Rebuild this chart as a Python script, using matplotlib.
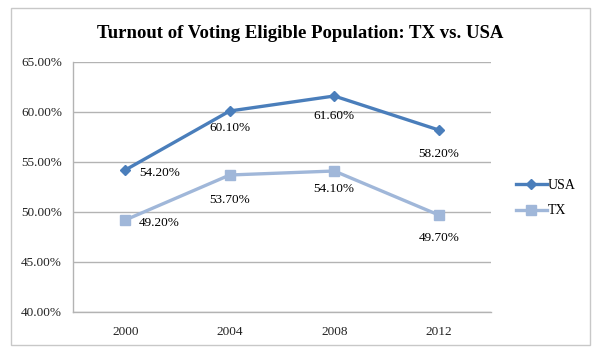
import matplotlib.pyplot as plt
from matplotlib.patches import Rectangle
from matplotlib.ticker import FuncFormatter

# ---- data ----
years = ["2000", "2004", "2008", "2012"]
usa = [54.2, 60.1, 61.6, 58.2]
tx = [49.2, 53.7, 54.1, 49.7]

usa_color = "#4a7ebb"
tx_color = "#a0b7d9"
grid_color = "#b3b3b3"

plt.rcParams['font.family'] = ['Liberation Serif', 'DejaVu Serif']

fig = plt.figure(figsize=(6, 3.57), dpi=100)
fig.patch.set_facecolor("white")

# outer chart frame
fig.patches.append(Rectangle((11 / 600, 1 - 345 / 357), 579 / 600, 337 / 357,
                             transform=fig.transFigure, fill=False,
                             edgecolor="#c8c8c8", linewidth=1.0))

ax = fig.add_axes([73 / 600, 1 - 312 / 357, 418 / 600, 250 / 357])
x = range(len(years))

ax.plot(x, usa, color=usa_color, linewidth=2.4, marker="D", markersize=5.5,
        label="USA", zorder=3)
ax.plot(x, tx, color=tx_color, linewidth=2.4, marker="s", markersize=7.5,
        label="TX", zorder=3)

# data labels: first point to the right, others below
def label_points(vals, below_offsets):
    for i, v in enumerate(vals):
        txt = f"{v:.2f}%"
        if i == 0:
            ax.annotate(txt, (i, v), xytext=(10, -2), textcoords="offset points",
                        ha="left", va="center", fontsize=9.5)
        else:
            ax.annotate(txt, (i, v), xytext=(0, below_offsets[i]),
                        textcoords="offset points", ha="center", va="top",
                        fontsize=9.5)

label_points(usa, [0, -8, -10, -13])
label_points(tx, [0, -14, -9, -12])

ax.set_xlim(-0.5, 3.5)
ax.set_ylim(40, 65)
ax.set_yticks([40, 45, 50, 55, 60, 65])
ax.yaxis.set_major_formatter(FuncFormatter(lambda v, p: f"{v:.2f}%"))
ax.set_xticks(list(x))
ax.set_xticklabels(years)
ax.tick_params(axis="both", length=0, labelsize=9.5, colors="#222222")
ax.tick_params(axis="y", pad=8)
ax.tick_params(axis="x", pad=10)

ax.grid(axis="y", color=grid_color, linewidth=1.0)
ax.set_axisbelow(True)
for side in ["top", "right"]:
    ax.spines[side].set_visible(False)
for side in ["left", "bottom"]:
    ax.spines[side].set_color(grid_color)
    ax.spines[side].set_linewidth(1.0)

fig.text(0.5, 1 - 34 / 357, "Turnout of Voting Eligible Population: TX vs. USA",
         ha="center", va="center", fontsize=13.5, fontweight="bold")

leg = ax.legend(loc="center left", bbox_to_anchor=(1.03, 0.455), frameon=False,
                fontsize=10, handlelength=2.2, handletextpad=0.1, labelspacing=0.9)

plt.savefig("out.png", dpi=100, facecolor="white")
